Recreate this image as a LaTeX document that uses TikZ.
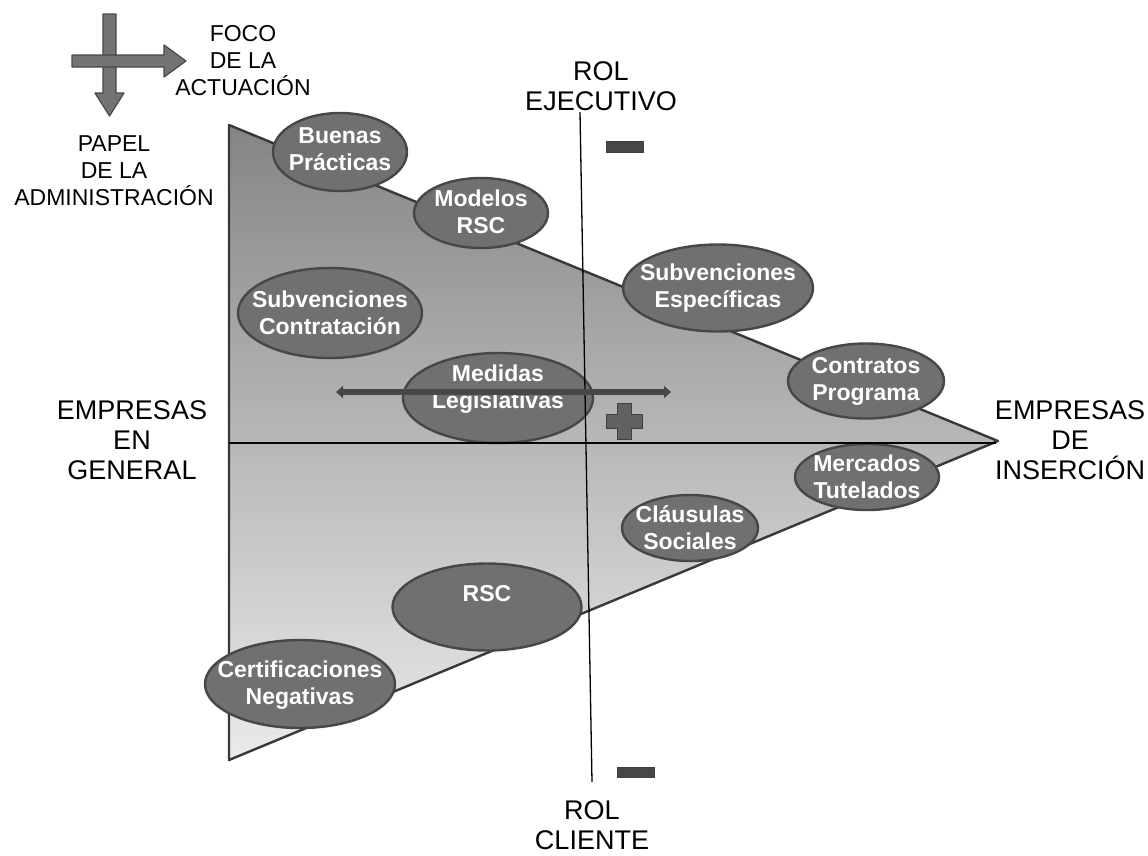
\documentclass[tikz,border=0pt]{standalone}
\usepackage{fontspec}
\setmainfont{Liberation Sans}
\usetikzlibrary{shapes.geometric,arrows.meta}

\tikzset{
  bubble/.style={ellipse, draw=black!72, line width=2.4pt, fill=black!56, inner sep=0pt},
  bubbletext/.style={text=white, font=\fontsize{23}{27}\selectfont\bfseries,
    align=center, inner sep=0pt},
  axislabel/.style={font=\fontsize{27}{30}\selectfont, align=center, inner sep=0pt},
  keylabel/.style={font=\fontsize{23}{27}\selectfont, align=center, inner sep=0pt},
  axisline/.style={black, line width=1.3pt},
  blockarrow/.style={fill=black!55, draw=black!72, line width=1.2pt, line join=round},
  signmark/.style={fill=black!62, draw=black!75, line width=1pt},
  spread/.style={draw=black!72, line width=5.5pt,
    {Triangle[length=7pt,width=12pt]}-{Triangle[length=7pt,width=12pt]}}
}

\begin{document}
\begin{tikzpicture}[x=1pt,y=-1pt]
\useasboundingbox (0,0) rectangle (1148,855);

% shaded triangle: from companies in general to insertion companies
\coordinate (tl) at (229,125);
\coordinate (bl) at (229,760);
\coordinate (apex) at (998,441);
\shade[top color=black!48, bottom color=black!8]
  (tl) -- (apex) -- (bl) -- cycle;
\draw[black!78, line width=2.4pt, line join=round] (tl) -- (apex) -- (bl) -- cycle;

% instruments
\node[bubble, minimum width=134, minimum height=78] (buenas) at (340,152) {};
\node[bubbletext] (buenastxt) at (340,149) {Buenas\\Prácticas};
\node[bubble, minimum width=134, minimum height=70] (modelos) at (481,213) {};
\node[bubbletext] (modelostxt) at (481,212) {Modelos\\RSC};
\node[bubble, minimum width=184, minimum height=90] (subcon) at (330,313) {};
\node[bubbletext] (subcontxt) at (subcon) {Subvenciones\\Contratación};
\node[bubble, minimum width=190, minimum height=87] (subesp) at (718,288) {};
\node[bubbletext] (subesptxt) at (subesp) {Subvenciones\\Específicas};
\node[bubble, minimum width=190, minimum height=90] (medidas) at (498,398) {};
\node[bubbletext] (medidastxt) at (498,389) {Medidas\\Legislativas};
\node[bubble, minimum width=156, minimum height=75] (contratos) at (866,381) {};
\node[bubbletext] (contratostxt) at (contratos) {Contratos\\Programa};
\node[bubble, minimum width=144, minimum height=66] (mercados) at (867,477) {};
\node[bubbletext] (mercadostxt) at (mercados) {Mercados\\Tutelados};
\node[bubble, minimum width=136, minimum height=66] (clausulas) at (690,528) {};
\node[bubbletext] (clausulastxt) at (clausulas) {Cláusulas\\Sociales};
\node[bubble, minimum width=189, minimum height=87] (rsc) at (487,607) {};
\node[bubbletext] (rsctxt) at (487,594) {RSC};
\node[bubble, minimum width=190, minimum height=88] (certif) at (300,684) {};
\node[bubbletext] (certiftxt) at (300,685) {Certificaciones\\Negativas};

% axes
\coordinate (hl) at (229,443);
\coordinate (hr) at (996,443);
\coordinate (vt) at (580,112);
\coordinate (vb) at (592,782);
\draw[axisline] (hl) -- (hr);
\draw[axisline] (vt) -- (vb);

% range of the legislative measures
\coordinate (sl) at (336,392);
\coordinate (sr) at (671,392);
\draw[spread] (sl) -- (sr);

% plus and minus marks
\draw[signmark] (617,403) -- (631,403) -- (631,414) -- (642,414) -- (642,428)
  -- (631,428) -- (631,439) -- (617,439) -- (617,428) -- (606,428) -- (606,414)
  -- (617,414) -- cycle;
\draw[signmark, fill=black!72] (606,141) rectangle (643,152);
\draw[signmark, fill=black!72] (617,767) rectangle (654,777);

% key arrows
\draw[blockarrow] (103,14) -- (116,14) -- (116,93) -- (124,93) -- (109.5,116)
  -- (95,93) -- (103,93) -- cycle;
\draw[blockarrow] (72,55) -- (164,55) -- (164,45) -- (186,61) -- (164,77)
  -- (164,67) -- (72,67) -- cycle;

% labels
\node[keylabel] (foco) at (243,61) {FOCO\\DE LA\\ACTUACIÓN};
\node[keylabel] (papel) at (114,171) {PAPEL\\DE LA\\ADMINISTRACIÓN};
\node[axislabel] (ejec) at (601,86) {ROL\\EJECUTIVO};
\node[axislabel] (cliente) at (592,825) {ROL\\CLIENTE};
\node[axislabel] (general) at (132,440) {EMPRESAS\\EN\\GENERAL};
\node[axislabel] (insercion) at (1070,440) {EMPRESAS\\DE\\INSERCIÓN};
\end{tikzpicture}
\end{document}
